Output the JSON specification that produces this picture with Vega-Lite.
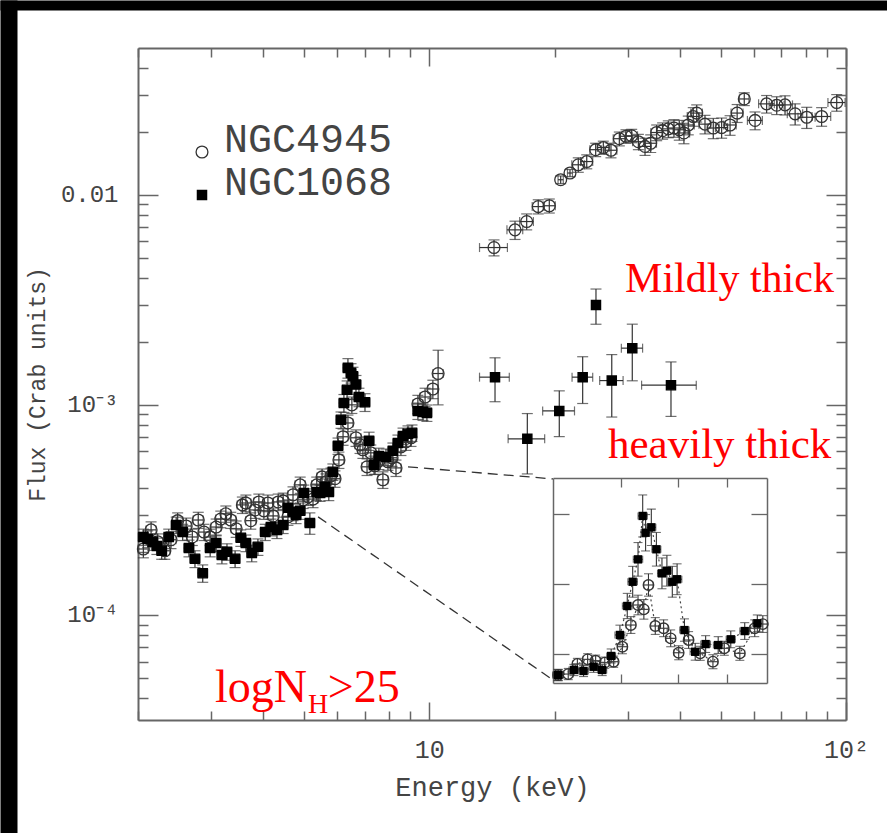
{
"$schema":"https://vega.github.io/schema/vega-lite/v6.json",
"width":708,"height":672,
"autosize":{"type":"none"},
"padding":{"left":138,"top":48,"right":41,"bottom":113},
"background":"white",
"config":{"view":{"stroke":null},"axis":{"grid":false},"font":"Liberation Mono"},
"datasets":{
"main":[
{"s":"NGC4945","E":2.06,"dE":0.058,"F":2.06e-4,"dF":1.9e-5},
{"s":"NGC4945","E":2.15,"dE":0.060,"F":2.54e-4,"dF":2.3e-5},
{"s":"NGC4945","E":2.23,"dE":0.062,"F":2.23e-4,"dF":2.0e-5},
{"s":"NGC4945","E":2.32,"dE":0.065,"F":2.02e-4,"dF":1.8e-5},
{"s":"NGC4945","E":2.40,"dE":0.067,"F":2.28e-4,"dF":2.1e-5},
{"s":"NGC4945","E":2.49,"dE":0.070,"F":2.81e-4,"dF":2.5e-5},
{"s":"NGC4945","E":2.61,"dE":0.073,"F":2.65e-4,"dF":2.4e-5},
{"s":"NGC4945","E":2.70,"dE":0.076,"F":2.35e-4,"dF":2.1e-5},
{"s":"NGC4945","E":2.79,"dE":0.078,"F":2.83e-4,"dF":2.5e-5},
{"s":"NGC4945","E":2.88,"dE":0.081,"F":2.48e-4,"dF":2.2e-5},
{"s":"NGC4945","E":2.98,"dE":0.083,"F":2.35e-4,"dF":2.1e-5},
{"s":"NGC4945","E":3.08,"dE":0.086,"F":2.62e-4,"dF":2.4e-5},
{"s":"NGC4945","E":3.16,"dE":0.088,"F":2.86e-4,"dF":2.6e-5},
{"s":"NGC4945","E":3.25,"dE":0.091,"F":3.03e-4,"dF":2.7e-5},
{"s":"NGC4945","E":3.34,"dE":0.094,"F":2.83e-4,"dF":2.5e-5},
{"s":"NGC4945","E":3.44,"dE":0.096,"F":2.57e-4,"dF":2.3e-5},
{"s":"NGC4945","E":3.56,"dE":0.100,"F":3.34e-4,"dF":3.0e-5},
{"s":"NGC4945","E":3.63,"dE":0.102,"F":3.41e-4,"dF":3.1e-5},
{"s":"NGC4945","E":3.73,"dE":0.104,"F":2.81e-4,"dF":2.5e-5},
{"s":"NGC4945","E":3.82,"dE":0.107,"F":3.16e-4,"dF":2.8e-5},
{"s":"NGC4945","E":3.90,"dE":0.109,"F":3.45e-4,"dF":3.1e-5},
{"s":"NGC4945","E":4.01,"dE":0.112,"F":3.13e-4,"dF":2.8e-5},
{"s":"NGC4945","E":4.10,"dE":0.115,"F":3.41e-4,"dF":3.1e-5},
{"s":"NGC4945","E":4.22,"dE":0.118,"F":2.96e-4,"dF":2.7e-5},
{"s":"NGC4945","E":4.34,"dE":0.122,"F":3.45e-4,"dF":3.1e-5},
{"s":"NGC4945","E":4.46,"dE":0.125,"F":3.49e-4,"dF":3.1e-5},
{"s":"NGC4945","E":4.58,"dE":0.128,"F":2.93e-4,"dF":2.6e-5},
{"s":"NGC4945","E":4.71,"dE":0.132,"F":3.73e-4,"dF":3.4e-5},
{"s":"NGC4945","E":4.90,"dE":0.137,"F":4.16e-4,"dF":3.7e-5},
{"s":"NGC4945","E":4.98,"dE":0.139,"F":3.53e-4,"dF":3.2e-5},
{"s":"NGC4945","E":5.12,"dE":0.143,"F":3.65e-4,"dF":3.3e-5},
{"s":"NGC4945","E":5.26,"dE":0.147,"F":3.56e-4,"dF":3.2e-5},
{"s":"NGC4945","E":5.37,"dE":0.150,"F":4.16e-4,"dF":3.7e-5},
{"s":"NGC4945","E":5.53,"dE":0.155,"F":4.54e-4,"dF":4.1e-5},
{"s":"NGC4945","E":5.65,"dE":0.158,"F":4.30e-4,"dF":3.9e-5},
{"s":"NGC4945","E":5.81,"dE":0.163,"F":4.59e-4,"dF":4.1e-5},
{"s":"NGC4945","E":5.94,"dE":0.166,"F":4.45e-4,"dF":4.0e-5},
{"s":"NGC4945","E":6.07,"dE":0.170,"F":5.47e-4,"dF":4.9e-5},
{"s":"NGC4945","E":6.21,"dE":0.174,"F":7.05e-4,"dF":6.3e-5},
{"s":"NGC4945","E":6.38,"dE":0.179,"F":8.20e-4,"dF":7.4e-5},
{"s":"NGC4945","E":6.52,"dE":0.183,"F":1.00e-3,"dF":9.0e-5},
{"s":"NGC4945","E":6.67,"dE":0.187,"F":6.97e-4,"dF":6.3e-5},
{"s":"NGC4945","E":6.82,"dE":0.191,"F":6.45e-4,"dF":5.8e-5},
{"s":"NGC4945","E":6.93,"dE":0.194,"F":6.11e-4,"dF":5.5e-5},
{"s":"NGC4945","E":7.09,"dE":0.199,"F":5.07e-4,"dF":4.6e-5},
{"s":"NGC4945","E":7.24,"dE":0.203,"F":5.91e-4,"dF":5.3e-5},
{"s":"NGC4945","E":7.41,"dE":0.207,"F":5.13e-4,"dF":4.6e-5},
{"s":"NGC4945","E":7.57,"dE":0.212,"F":5.41e-4,"dF":4.9e-5},
{"s":"NGC4945","E":7.74,"dE":0.217,"F":4.40e-4,"dF":4.0e-5},
{"s":"NGC4945","E":7.96,"dE":0.223,"F":5.36e-4,"dF":4.8e-5},
{"s":"NGC4945","E":8.14,"dE":0.228,"F":5.60e-4,"dF":5.0e-5},
{"s":"NGC4945","E":8.32,"dE":0.233,"F":5.01e-4,"dF":4.5e-5},
{"s":"NGC4945","E":8.55,"dE":0.239,"F":6.31e-4,"dF":5.7e-5},
{"s":"NGC4945","E":8.79,"dE":0.246,"F":6.67e-4,"dF":6.0e-5},
{"s":"NGC4945","E":9.04,"dE":0.253,"F":6.97e-4,"dF":6.3e-5},
{"s":"NGC4945","E":9.39,"dE":0.263,"F":1.01e-3,"dF":1.0e-4},
{"s":"NGC4945","E":9.77,"dE":0.274,"F":1.09e-3,"dF":1.1e-4},
{"s":"NGC4945","E":10.2,"dE":0.286,"F":1.19e-3,"dF":1.2e-4},
{"s":"NGC4945","E":10.5,"dE":0.294,"F":1.41e-3,"dF":4.1e-4},
{"s":"NGC4945","E":14.3,"dE":1.1,"F":5.61e-3,"dF":4.9e-4},
{"s":"NGC4945","E":16.06,"dE":0.7,"F":6.81e-3,"dF":6.8e-4},
{"s":"NGC4945","E":17.13,"dE":0.65,"F":7.46e-3,"dF":6.5e-4},
{"s":"NGC4945","E":18.26,"dE":0.6,"F":8.79e-3,"dF":6.8e-4},
{"s":"NGC4945","E":19.41,"dE":0.65,"F":8.87e-3,"dF":6.8e-4},
{"s":"NGC4945","E":20.67,"dE":0.3,"F":1.18e-2,"dF":5e-4},
{"s":"NGC4945","E":21.76,"dE":0.3,"F":1.27e-2,"dF":5e-4},
{"s":"NGC4945","E":22.78,"dE":0.8,"F":1.39e-2,"dF":1.1e-3},
{"s":"NGC4945","E":23.87,"dE":0.8,"F":1.44e-2,"dF":1.1e-3},
{"s":"NGC4945","E":25.08,"dE":0.8,"F":1.64e-2,"dF":1.2e-3},
{"s":"NGC4945","E":26.16,"dE":0.85,"F":1.68e-2,"dF":1.2e-3},
{"s":"NGC4945","E":27.29,"dE":0.9,"F":1.63e-2,"dF":1.3e-3},
{"s":"NGC4945","E":28.58,"dE":0.95,"F":1.85e-2,"dF":1.4e-3},
{"s":"NGC4945","E":29.65,"dE":1.0,"F":1.90e-2,"dF":1.4e-3},
{"s":"NGC4945","E":30.6,"dE":1.0,"F":1.91e-2,"dF":1.4e-3},
{"s":"NGC4945","E":31.75,"dE":1.0,"F":1.79e-2,"dF":1.5e-3},
{"s":"NGC4945","E":32.94,"dE":1.1,"F":1.70e-2,"dF":1.6e-3},
{"s":"NGC4945","E":33.99,"dE":1.1,"F":1.76e-2,"dF":1.7e-3},
{"s":"NGC4945","E":35.13,"dE":1.1,"F":1.98e-2,"dF":1.7e-3},
{"s":"NGC4945","E":36.3,"dE":1.2,"F":2.02e-2,"dF":1.8e-3},
{"s":"NGC4945","E":37.46,"dE":1.2,"F":2.06e-2,"dF":1.9e-3},
{"s":"NGC4945","E":38.65,"dE":1.3,"F":2.08e-2,"dF":2.0e-3},
{"s":"NGC4945","E":39.8,"dE":1.3,"F":2.04e-2,"dF":2.2e-3},
{"s":"NGC4945","E":40.84,"dE":1.3,"F":1.97e-2,"dF":2.2e-3},
{"s":"NGC4945","E":41.83,"dE":1.4,"F":2.15e-2,"dF":2.2e-3},
{"s":"NGC4945","E":43.0,"dE":1.4,"F":2.36e-2,"dF":2.4e-3},
{"s":"NGC4945","E":43.83,"dE":1.4,"F":2.45e-2,"dF":2.3e-3},
{"s":"NGC4945","E":45.88,"dE":1.5,"F":2.17e-2,"dF":2.2e-3},
{"s":"NGC4945","E":48.03,"dE":1.6,"F":2.08e-2,"dF":2.3e-3},
{"s":"NGC4945","E":50.3,"dE":1.7,"F":2.09e-2,"dF":2.3e-3},
{"s":"NGC4945","E":52.7,"dE":1.8,"F":2.15e-2,"dF":2.3e-3},
{"s":"NGC4945","E":54.8,"dE":1.8,"F":2.45e-2,"dF":2.4e-3},
{"s":"NGC4945","E":57.0,"dE":1.5,"F":2.86e-2,"dF":2.0e-3},
{"s":"NGC4945","E":60.5,"dE":2.5,"F":2.26e-2,"dF":2.2e-3},
{"s":"NGC4945","E":64.5,"dE":2.8,"F":2.71e-2,"dF":2.6e-3},
{"s":"NGC4945","E":68.2,"dE":2.8,"F":2.67e-2,"dF":2.6e-3},
{"s":"NGC4945","E":71.4,"dE":3.0,"F":2.68e-2,"dF":2.8e-3},
{"s":"NGC4945","E":75.5,"dE":3.2,"F":2.43e-2,"dF":2.8e-3},
{"s":"NGC4945","E":80.5,"dE":3.8,"F":2.34e-2,"dF":2.7e-3},
{"s":"NGC4945","E":87.4,"dE":4.5,"F":2.36e-2,"dF":2.4e-3},
{"s":"NGC4945","E":95.0,"dE":4.5,"F":2.75e-2,"dF":2.5e-3},
{"s":"NGC1068","E":2.06,"dE":0.058,"F":2.35e-4,"dF":2.1e-5},
{"s":"NGC1068","E":2.11,"dE":0.059,"F":2.30e-4,"dF":2.1e-5},
{"s":"NGC1068","E":2.17,"dE":0.061,"F":2.23e-4,"dF":2.0e-5},
{"s":"NGC1068","E":2.22,"dE":0.062,"F":2.13e-4,"dF":1.9e-5},
{"s":"NGC1068","E":2.28,"dE":0.064,"F":2.02e-4,"dF":1.8e-5},
{"s":"NGC1068","E":2.37,"dE":0.066,"F":2.35e-4,"dF":2.1e-5},
{"s":"NGC1068","E":2.47,"dE":0.069,"F":2.68e-4,"dF":2.4e-5},
{"s":"NGC1068","E":2.56,"dE":0.072,"F":2.48e-4,"dF":2.2e-5},
{"s":"NGC1068","E":2.65,"dE":0.074,"F":2.08e-4,"dF":1.9e-5},
{"s":"NGC1068","E":2.74,"dE":0.077,"F":1.85e-4,"dF":1.7e-5},
{"s":"NGC1068","E":2.86,"dE":0.080,"F":1.58e-4,"dF":1.5e-5},
{"s":"NGC1068","E":2.98,"dE":0.083,"F":2.08e-4,"dF":1.9e-5},
{"s":"NGC1068","E":3.08,"dE":0.086,"F":2.20e-4,"dF":2.0e-5},
{"s":"NGC1068","E":3.18,"dE":0.089,"F":1.93e-4,"dF":1.8e-5},
{"s":"NGC1068","E":3.27,"dE":0.092,"F":2.00e-4,"dF":1.8e-5},
{"s":"NGC1068","E":3.42,"dE":0.096,"F":1.85e-4,"dF":1.7e-5},
{"s":"NGC1068","E":3.53,"dE":0.099,"F":2.33e-4,"dF":2.1e-5},
{"s":"NGC1068","E":3.63,"dE":0.102,"F":2.20e-4,"dF":2.0e-5},
{"s":"NGC1068","E":3.75,"dE":0.105,"F":1.97e-4,"dF":1.8e-5},
{"s":"NGC1068","E":3.88,"dE":0.109,"F":2.11e-4,"dF":1.9e-5},
{"s":"NGC1068","E":4.04,"dE":0.113,"F":2.48e-4,"dF":2.2e-5},
{"s":"NGC1068","E":4.17,"dE":0.117,"F":2.62e-4,"dF":2.4e-5},
{"s":"NGC1068","E":4.31,"dE":0.121,"F":2.54e-4,"dF":2.3e-5},
{"s":"NGC1068","E":4.46,"dE":0.125,"F":2.68e-4,"dF":2.4e-5},
{"s":"NGC1068","E":4.58,"dE":0.128,"F":3.24e-4,"dF":2.9e-5},
{"s":"NGC1068","E":4.71,"dE":0.132,"F":3.09e-4,"dF":2.8e-5},
{"s":"NGC1068","E":4.79,"dE":0.134,"F":2.99e-4,"dF":2.7e-5},
{"s":"NGC1068","E":4.90,"dE":0.137,"F":3.13e-4,"dF":2.8e-5},
{"s":"NGC1068","E":5.00,"dE":0.140,"F":3.81e-4,"dF":3.4e-5},
{"s":"NGC1068","E":5.17,"dE":0.145,"F":2.74e-4,"dF":3.2e-5},
{"s":"NGC1068","E":5.37,"dE":0.150,"F":3.85e-4,"dF":3.5e-5},
{"s":"NGC1068","E":5.47,"dE":0.153,"F":3.81e-4,"dF":3.4e-5},
{"s":"NGC1068","E":5.62,"dE":0.157,"F":4.07e-4,"dF":3.7e-5},
{"s":"NGC1068","E":5.74,"dE":0.161,"F":3.85e-4,"dF":3.5e-5},
{"s":"NGC1068","E":5.87,"dE":0.164,"F":4.80e-4,"dF":4.3e-5},
{"s":"NGC1068","E":6.04,"dE":0.169,"F":6.38e-4,"dF":5.7e-5},
{"s":"NGC1068","E":6.14,"dE":0.172,"F":8.49e-4,"dF":7.6e-5},
{"s":"NGC1068","E":6.24,"dE":0.175,"F":1.02e-3,"dF":1.0e-4},
{"s":"NGC1068","E":6.35,"dE":0.178,"F":1.18e-3,"dF":1.2e-4},
{"s":"NGC1068","E":6.38,"dE":0.179,"F":1.50e-3,"dF":1.6e-4},
{"s":"NGC1068","E":6.49,"dE":0.182,"F":1.42e-3,"dF":1.5e-4},
{"s":"NGC1068","E":6.56,"dE":0.184,"F":1.37e-3,"dF":1.4e-4},
{"s":"NGC1068","E":6.67,"dE":0.187,"F":1.25e-3,"dF":1.3e-4},
{"s":"NGC1068","E":6.78,"dE":0.190,"F":1.09e-3,"dF":1.1e-4},
{"s":"NGC1068","E":7.01,"dE":0.196,"F":1.03e-3,"dF":1.0e-4},
{"s":"NGC1068","E":7.17,"dE":0.201,"F":6.74e-4,"dF":6.7e-5},
{"s":"NGC1068","E":7.37,"dE":0.206,"F":5.18e-4,"dF":5.2e-5},
{"s":"NGC1068","E":7.57,"dE":0.212,"F":5.71e-4,"dF":5.1e-5},
{"s":"NGC1068","E":7.87,"dE":0.220,"F":5.65e-4,"dF":5.1e-5},
{"s":"NGC1068","E":8.18,"dE":0.229,"F":6.04e-4,"dF":5.4e-5},
{"s":"NGC1068","E":8.41,"dE":0.235,"F":6.59e-4,"dF":5.9e-5},
{"s":"NGC1068","E":8.65,"dE":0.242,"F":7.11e-4,"dF":6.4e-5},
{"s":"NGC1068","E":8.89,"dE":0.249,"F":7.28e-4,"dF":6.6e-5},
{"s":"NGC1068","E":9.09,"dE":0.255,"F":7.36e-4,"dF":6.6e-5},
{"s":"NGC1068","E":9.39,"dE":0.263,"F":9.36e-4,"dF":8.4e-5},
{"s":"NGC1068","E":9.66,"dE":0.270,"F":9.26e-4,"dF":8.3e-5},
{"s":"NGC1068","E":9.87,"dE":0.276,"F":9.16e-4,"dF":8.2e-5},
{"s":"NGC1068","E":14.38,"dE":1.18,"F":1.355e-3,"dF":3.2e-4},
{"s":"NGC1068","E":17.19,"dE":1.73,"F":6.89e-4,"dF":2.2e-4},
{"s":"NGC1068","E":20.51,"dE":1.8,"F":9.36e-4,"dF":2.3e-4},
{"s":"NGC1068","E":23.34,"dE":1.33,"F":1.355e-3,"dF":3.4e-4},
{"s":"NGC1068","E":25.12,"dE":0.4,"F":2.99e-3,"dF":5.7e-4},
{"s":"NGC1068","E":27.41,"dE":1.77,"F":1.305e-3,"dF":4.3e-4},
{"s":"NGC1068","E":30.7,"dE":1.8,"F":1.862e-3,"dF":5.6e-4},
{"s":"NGC1068","E":38.02,"dE":5.7,"F":1.241e-3,"dF":3.6e-4}
],
"inset":[
{"s":"NGC1068","E":5.07,"dE":0.07,"F":3.50e-4,"dF":4e-5},
{"s":"NGC1068","E":5.29,"dE":0.07,"F":3.86e-4,"dF":4e-5},
{"s":"NGC1068","E":5.43,"dE":0.07,"F":3.79e-4,"dF":4e-5},
{"s":"NGC1068","E":5.58,"dE":0.07,"F":4.09e-4,"dF":4e-5},
{"s":"NGC1068","E":5.71,"dE":0.07,"F":3.86e-4,"dF":4e-5},
{"s":"NGC1068","E":5.85,"dE":0.07,"F":4.86e-4,"dF":5e-5},
{"s":"NGC1068","E":5.99,"dE":0.08,"F":6.36e-4,"dF":7e-5},
{"s":"NGC1068","E":6.11,"dE":0.08,"F":8.43e-4,"dF":9e-5},
{"s":"NGC1068","E":6.20,"dE":0.08,"F":1.016e-3,"dF":1.1e-4},
{"s":"NGC1068","E":6.29,"dE":0.08,"F":1.176e-3,"dF":1.2e-4},
{"s":"NGC1068","E":6.37,"dE":0.08,"F":1.486e-3,"dF":1.5e-4},
{"s":"NGC1068","E":6.42,"dE":0.08,"F":1.366e-3,"dF":1.3e-4},
{"s":"NGC1068","E":6.52,"dE":0.08,"F":1.405e-3,"dF":1.3e-4},
{"s":"NGC1068","E":6.61,"dE":0.08,"F":1.248e-3,"dF":1.2e-4},
{"s":"NGC1068","E":6.71,"dE":0.08,"F":1.076e-3,"dF":1.1e-4},
{"s":"NGC1068","E":6.80,"dE":0.08,"F":1.095e-3,"dF":1.1e-4},
{"s":"NGC1068","E":6.90,"dE":0.08,"F":1.016e-3,"dF":1.1e-4},
{"s":"NGC1068","E":6.99,"dE":0.09,"F":1.034e-3,"dF":1.1e-4},
{"s":"NGC1068","E":7.13,"dE":0.09,"F":6.71e-4,"dF":8e-5},
{"s":"NGC1068","E":7.34,"dE":0.10,"F":5.16e-4,"dF":6e-5},
{"s":"NGC1068","E":7.55,"dE":0.10,"F":5.71e-4,"dF":6e-5},
{"s":"NGC1068","E":7.81,"dE":0.10,"F":5.64e-4,"dF":6e-5},
{"s":"NGC1068","E":8.08,"dE":0.10,"F":6.05e-4,"dF":6e-5},
{"s":"NGC1068","E":8.39,"dE":0.11,"F":6.64e-4,"dF":6e-5},
{"s":"NGC1068","E":8.68,"dE":0.11,"F":7.19e-4,"dF":6e-5},
{"s":"NGC4945","E":5.07,"dE":0.07,"F":3.50e-4,"dF":4e-5},
{"s":"NGC4945","E":5.21,"dE":0.07,"F":3.57e-4,"dF":4e-5},
{"s":"NGC4945","E":5.34,"dE":0.07,"F":4.29e-4,"dF":4e-5},
{"s":"NGC4945","E":5.49,"dE":0.07,"F":4.62e-4,"dF":4e-5},
{"s":"NGC4945","E":5.61,"dE":0.07,"F":4.52e-4,"dF":4e-5},
{"s":"NGC4945","E":5.75,"dE":0.07,"F":4.38e-4,"dF":4e-5},
{"s":"NGC4945","E":5.89,"dE":0.07,"F":4.45e-4,"dF":4e-5},
{"s":"NGC4945","E":6.03,"dE":0.08,"F":5.52e-4,"dF":5e-5},
{"s":"NGC4945","E":6.17,"dE":0.08,"F":7.07e-4,"dF":6e-5},
{"s":"NGC4945","E":6.29,"dE":0.08,"F":8.50e-4,"dF":7e-5},
{"s":"NGC4945","E":6.39,"dE":0.08,"F":8.19e-4,"dF":7e-5},
{"s":"NGC4945","E":6.47,"dE":0.08,"F":9.93e-4,"dF":8e-5},
{"s":"NGC4945","E":6.59,"dE":0.08,"F":7.00e-4,"dF":6e-5},
{"s":"NGC4945","E":6.74,"dE":0.08,"F":6.84e-4,"dF":6e-5},
{"s":"NGC4945","E":6.87,"dE":0.09,"F":6.12e-4,"dF":6e-5},
{"s":"NGC4945","E":7.02,"dE":0.09,"F":5.09e-4,"dF":5e-5},
{"s":"NGC4945","E":7.21,"dE":0.09,"F":6.00e-4,"dF":6e-5},
{"s":"NGC4945","E":7.44,"dE":0.10,"F":5.05e-4,"dF":5e-5},
{"s":"NGC4945","E":7.70,"dE":0.10,"F":4.45e-4,"dF":5e-5},
{"s":"NGC4945","E":7.94,"dE":0.10,"F":5.41e-4,"dF":5e-5},
{"s":"NGC4945","E":8.28,"dE":0.11,"F":5.05e-4,"dF":5e-5},
{"s":"NGC4945","E":8.62,"dE":0.11,"F":6.84e-4,"dF":6e-5},
{"s":"NGC4945","E":8.81,"dE":0.11,"F":7.14e-4,"dF":6e-5}
],
"links":[
{"g":"a","E":5.41,"F":2.93e-4},
{"g":"a","E":19.81,"F":4.90e-5},
{"g":"b","E":8.89,"F":5.07e-4},
{"g":"b","E":19.81,"F":4.44e-4}
]
},
"layer":[
{
"layer":[
{"data":{"name":"main"},
 "mark":{"type":"errorbar","color":"#333","thickness":1.2,"ticks":{"size":11}},
 "encoding":{
  "x":{"field":"E","type":"quantitative","scale":{"type":"log","domain":[2,100],"nice":false},"axis":null},
  "y":{"field":"F","type":"quantitative","scale":{"type":"log","domain":[3.16e-5,0.05],"nice":false},"axis":null},
  "yError":{"field":"dF"}}},
{"data":{"name":"main"},
 "mark":{"type":"errorbar","color":"#333","thickness":1.2,"ticks":{"size":9}},
 "encoding":{
  "x":{"field":"E","type":"quantitative","scale":{"type":"log","domain":[2,100],"nice":false},"axis":null},
  "xError":{"field":"dE"},
  "y":{"field":"F","type":"quantitative","scale":{"type":"log","domain":[3.16e-5,0.05],"nice":false},"axis":null}}},
{"data":{"name":"main"},
 "mark":{"type":"point","opacity":1,"strokeWidth":1.3},
 "encoding":{
  "x":{"field":"E","type":"quantitative","scale":{"type":"log","domain":[2,100],"nice":false},
   "axis":{"orient":"bottom","values":[10,100],"labelExpr":"datum.value < 50 ? '10' : '10²'","ticks":false,"domain":false,"grid":false,"labelFont":"Liberation Mono","labelFontSize":25,"labelColor":"#444","labelPadding":17,"labelFlush":false,"labelOverlap":false,"labelBound":false,"title":"Energy (keV)","titleFont":"Liberation Mono","titleFontSize":27,"titleFontWeight":"normal","titleColor":"#444","titleY":67,"titleX":354,"titleBaseline":"middle","titleAlign":"center"}},
  "y":{"field":"F","type":"quantitative","scale":{"type":"log","domain":[3.16e-5,0.05],"nice":false},
   "axis":{"orient":"left","values":[0.0001,0.001,0.01],"labelExpr":"datum.value > 0.005 ? '0.01' : (datum.value > 0.0005 ? '10⁻³' : '10⁻⁴')","ticks":false,"domain":false,"grid":false,"labelFont":"Liberation Mono","labelFontSize":24,"labelColor":"#444","labelPadding":20,"labelOverlap":false,"labelBound":false,"labelFlush":false,"title":"Flux (Crab units)","titleFont":"Liberation Mono","titleFontSize":23,"titleFontWeight":"normal","titleColor":"#444","titleX":-101,"titleY":336,"titleAngle":-90,"titleAlign":"center","titleBaseline":"middle"}},
  "shape":{"field":"s","type":"nominal","scale":{"domain":["NGC4945","NGC1068"],"range":["circle","square"]},
   "legend":{"title":null,"orient":"none","legendX":44,"legendY":84,"labelFont":"Liberation Mono","labelFontSize":40,"labelColor":"#444","labelBaseline":"alphabetic","labelOffset":2,"labelLimit":500,"rowPadding":2,"symbolStrokeWidth":1.3}},
  "fill":{"field":"s","type":"nominal","scale":{"domain":["NGC4945","NGC1068"],"range":["transparent","#000000"]},
   "legend":{"title":null,"orient":"none","legendX":44,"legendY":84,"labelFont":"Liberation Mono","labelFontSize":40,"labelColor":"#444","labelBaseline":"alphabetic","labelOffset":2,"labelLimit":500,"rowPadding":2,"symbolStrokeWidth":1.3}},
  "stroke":{"field":"s","type":"nominal","scale":{"domain":["NGC4945","NGC1068"],"range":["#333333","#000000"]},
   "legend":{"title":null,"orient":"none","legendX":44,"legendY":84,"labelFont":"Liberation Mono","labelFontSize":40,"labelColor":"#444","labelBaseline":"alphabetic","labelOffset":2,"labelLimit":500,"rowPadding":2,"symbolStrokeWidth":1.3}},
  "size":{"field":"s","type":"nominal","scale":{"domain":["NGC4945","NGC1068"],"range":[140,85]},
   "legend":{"title":null,"orient":"none","legendX":44,"legendY":84,"labelFont":"Liberation Mono","labelFontSize":40,"labelColor":"#444","labelBaseline":"alphabetic","labelOffset":2,"labelLimit":500,"rowPadding":2,"symbolStrokeWidth":1.3}}}},
{"data":{"name":"links"},
 "mark":{"type":"line","strokeDash":[10,6],"color":"#333","strokeWidth":1.3},
 "encoding":{
  "x":{"field":"E","type":"quantitative","scale":{"type":"log","domain":[2,100],"nice":false},
   "axis":{"orient":"bottom","values":[10,100],"labels":false,"tickSize":-18,"tickColor":"#666","tickWidth":1.5,"domain":true,"domainColor":"#666","domainWidth":2,"grid":false,"title":null}},
  "y":{"field":"F","type":"quantitative","scale":{"type":"log","domain":[3.16e-5,0.05],"nice":false},
   "axis":{"orient":"left","values":[0.0001,0.001,0.01],"labels":false,"tickSize":-20,"tickColor":"#666","tickWidth":1.5,"domain":true,"domainColor":"#666","domainWidth":2,"grid":false,"title":null}},
  "detail":{"field":"g"}}},
{"data":{"values":[{"t":"Mildly thick","E":29.5,"F":3.45e-3}]},
 "mark":{"type":"text","font":"Liberation Serif","fontSize":42,"color":"#ff0000","align":"left","baseline":"alphabetic"},
 "encoding":{
  "text":{"field":"t"},
  "x":{"field":"E","type":"quantitative","scale":{"type":"log","domain":[2,100],"nice":false},
   "axis":{"orient":"bottom","values":[2,3,4,5,6,7,8,9,20,30,40,50,60,70,80,90],"labels":false,"tickSize":-9,"tickColor":"#666","tickWidth":1.5,"domain":false,"grid":false,"title":null}},
  "y":{"field":"F","type":"quantitative","scale":{"type":"log","domain":[3.16e-5,0.05],"nice":false},
   "axis":{"orient":"left","values":[0.00004,0.00005,0.00006,0.00007,0.00008,0.00009,0.0002,0.0003,0.0004,0.0005,0.0006,0.0007,0.0008,0.0009,0.002,0.003,0.004,0.005,0.006,0.007,0.008,0.009,0.02,0.03,0.04],"labels":false,"tickSize":-10,"tickColor":"#666","tickWidth":1.5,"domain":false,"grid":false,"title":null}}}},
{"data":{"values":[{"t":"heavily thick","E":26.85,"F":5.59e-4}]},
 "mark":{"type":"text","font":"Liberation Serif","fontSize":43,"color":"#ff0000","align":"left","baseline":"alphabetic"},
 "encoding":{
  "text":{"field":"t"},
  "x":{"field":"E","type":"quantitative","scale":{"type":"log","domain":[2,100],"nice":false},
   "axis":{"orient":"top","values":[10,100],"labels":false,"tickSize":-18,"tickColor":"#666","tickWidth":1.5,"domain":true,"domainColor":"#666","domainWidth":2,"grid":false,"title":null}},
  "y":{"field":"F","type":"quantitative","scale":{"type":"log","domain":[3.16e-5,0.05],"nice":false},
   "axis":{"orient":"right","values":[0.0001,0.001,0.01],"labels":false,"tickSize":-20,"tickColor":"#666","tickWidth":1.5,"domain":true,"domainColor":"#666","domainWidth":2,"grid":false,"title":null}}}},
{"data":{"values":[{"t":"logN","E":3.06,"F":3.85e-5}]},
 "mark":{"type":"text","font":"Liberation Serif","fontSize":46,"color":"#ff0000","align":"left","baseline":"alphabetic"},
 "encoding":{
  "text":{"field":"t"},
  "x":{"field":"E","type":"quantitative","scale":{"type":"log","domain":[2,100],"nice":false},
   "axis":{"orient":"top","values":[2,3,4,5,6,7,8,9,20,30,40,50,60,70,80,90],"labels":false,"tickSize":-9,"tickColor":"#666","tickWidth":1.5,"domain":false,"grid":false,"title":null}},
  "y":{"field":"F","type":"quantitative","scale":{"type":"log","domain":[3.16e-5,0.05],"nice":false},
   "axis":{"orient":"right","values":[0.00004,0.00005,0.00006,0.00007,0.00008,0.00009,0.0002,0.0003,0.0004,0.0005,0.0006,0.0007,0.0008,0.0009,0.002,0.003,0.004,0.005,0.006,0.007,0.008,0.009,0.02,0.03,0.04],"labels":false,"tickSize":-10,"tickColor":"#666","tickWidth":1.5,"domain":false,"grid":false,"title":null}}}},
{"data":{"values":[{"t":"H","E":5.12,"F":3.41e-5}]},
 "mark":{"type":"text","font":"Liberation Serif","fontSize":28,"color":"#ff0000","align":"left","baseline":"alphabetic"},
 "encoding":{
  "text":{"field":"t"},
  "x":{"field":"E","type":"quantitative","scale":{"type":"log","domain":[2,100],"nice":false},"axis":null},
  "y":{"field":"F","type":"quantitative","scale":{"type":"log","domain":[3.16e-5,0.05],"nice":false},"axis":null}}},
{"data":{"values":[{"t":">25","E":5.71,"F":3.85e-5}]},
 "mark":{"type":"text","font":"Liberation Serif","fontSize":46,"color":"#ff0000","align":"left","baseline":"alphabetic"},
 "encoding":{
  "text":{"field":"t"},
  "x":{"field":"E","type":"quantitative","scale":{"type":"log","domain":[2,100],"nice":false},"axis":null},
  "y":{"field":"F","type":"quantitative","scale":{"type":"log","domain":[3.16e-5,0.05],"nice":false},"axis":null}}}
],
"resolve":{"axis":{"x":"independent","y":"independent"}}
},
{
"layer":[
{"data":{"name":"inset"},
 "mark":{"type":"errorbar","color":"#333","thickness":1.1,"ticks":{"size":9}},
 "encoding":{
  "x":{"field":"E","type":"quantitative","scale":{"type":"log","domain":[5.0,8.91],"range":[415,629],"nice":false},"axis":null},
  "y":{"field":"F","type":"quantitative","scale":{"type":"linear","domain":[2.93e-4,1.757e-3],"range":[635,430],"nice":false,"zero":false},"axis":null},
  "yError":{"field":"dF"}}},
{"data":{"name":"inset"},
 "mark":{"type":"errorbar","color":"#333","thickness":1.1,"ticks":{"size":7}},
 "encoding":{
  "x":{"field":"E","type":"quantitative","scale":{"type":"log","domain":[5.0,8.91],"range":[415,629],"nice":false},"axis":null},
  "xError":{"field":"dE"},
  "y":{"field":"F","type":"quantitative","scale":{"type":"linear","domain":[2.93e-4,1.757e-3],"range":[635,430],"nice":false,"zero":false},"axis":null}}},
{"data":{"name":"inset"},
 "mark":{"type":"line","strokeDash":[2,3],"color":"#444","strokeWidth":1.2},
 "encoding":{
  "x":{"field":"E","type":"quantitative","scale":{"type":"log","domain":[5.0,8.91],"range":[415,629],"nice":false},"axis":null},
  "y":{"field":"F","type":"quantitative","scale":{"type":"linear","domain":[2.93e-4,1.757e-3],"range":[635,430],"nice":false,"zero":false},"axis":null},
  "detail":{"field":"s"}}},
{"data":{"name":"inset"},
 "transform":[{"filter":"datum.s == 'NGC4945'"}],
 "mark":{"type":"point","shape":"circle","filled":false,"size":110,"stroke":"#333","strokeWidth":1.3,"opacity":1},
 "encoding":{
  "x":{"field":"E","type":"quantitative","scale":{"type":"log","domain":[5.0,8.91],"range":[415,629],"nice":false},
   "axis":{"orient":"bottom","offset":-37,"values":[6,7,8],"labels":false,"tickSize":-9,"tickColor":"#666","tickWidth":1.3,"domain":true,"domainColor":"#666","domainWidth":1.5,"grid":false,"title":null}},
  "y":{"field":"F","type":"quantitative","scale":{"type":"linear","domain":[2.93e-4,1.757e-3],"range":[635,430],"nice":false,"zero":false},
   "axis":{"orient":"left","offset":-415,"values":[0.0005,0.001,0.0015],"labels":false,"tickSize":-16,"tickColor":"#666","tickWidth":1.3,"domain":true,"domainColor":"#666","domainWidth":1.5,"grid":false,"title":null}}}},
{"data":{"name":"inset"},
 "transform":[{"filter":"datum.s == 'NGC1068'"}],
 "mark":{"type":"point","shape":"square","filled":true,"size":70,"color":"#000","opacity":1},
 "encoding":{
  "x":{"field":"E","type":"quantitative","scale":{"type":"log","domain":[5.0,8.91],"range":[415,629],"nice":false},
   "axis":{"orient":"top","offset":-430,"values":[6,7,8],"labels":false,"tickSize":-9,"tickColor":"#666","tickWidth":1.3,"domain":true,"domainColor":"#666","domainWidth":1.5,"grid":false,"title":null}},
  "y":{"field":"F","type":"quantitative","scale":{"type":"linear","domain":[2.93e-4,1.757e-3],"range":[635,430],"nice":false,"zero":false},
   "axis":{"orient":"right","offset":-79,"values":[0.0005,0.001,0.0015],"labels":false,"tickSize":-16,"tickColor":"#666","tickWidth":1.3,"domain":true,"domainColor":"#666","domainWidth":1.5,"grid":false,"title":null}}}}
],
"resolve":{"axis":{"x":"independent","y":"independent"}}
},
{"data":{"values":[{"u":0.5,"v":0.5}]},
 "mark":{"type":"point","opacity":0},
 "encoding":{
  "x":{"field":"u","type":"quantitative","scale":{"domain":[0,1],"range":[-138,749],"nice":false,"zero":false},
   "axis":{"orient":"top","offset":43,"domain":true,"domainColor":"#000","domainWidth":10,"ticks":false,"labels":false,"grid":false,"title":null}},
  "y":{"field":"v","type":"quantitative","scale":{"domain":[0,1],"range":[785,-48],"nice":false,"zero":false},
   "axis":{"orient":"left","offset":129.5,"domain":true,"domainColor":"#000","domainWidth":17,"ticks":false,"labels":false,"grid":false,"title":null}}}}
],
"resolve":{"scale":{"x":"independent","y":"independent"},"axis":{"x":"independent","y":"independent"}}
}
